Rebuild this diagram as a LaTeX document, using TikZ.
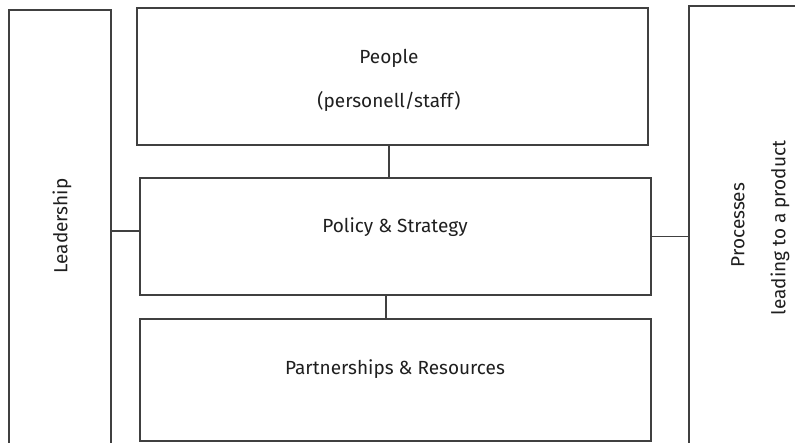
\documentclass[tikz,border=0pt]{standalone}
\usepackage{fontspec}
\setmainfont{Fira Sans}
\begin{document}
\begin{tikzpicture}[x=1pt,y=-1pt,
  box/.style={draw=black!75,line width=1.2pt,rectangle,inner sep=0pt},
  conn/.style={draw=black!75,line width=1.2pt},
  lbl/.style={text=black!88,font=\fontsize{19}{22}\selectfont,inner sep=0pt}]
\useasboundingbox[fill=white] (0,0) rectangle (795,443);
\begin{scope}
\clip (0,0) rectangle (795,443);
\node[box,minimum width=102pt,minimum height=450pt] (lead) at (60,235) {};
\node[box,minimum width=511pt,minimum height=137pt] (people) at (392.5,76.5) {};
\node[box,minimum width=511pt,minimum height=117pt] (policy) at (395.5,236.5) {};
\node[box,minimum width=511pt,minimum height=122pt] (partner) at (395.5,380) {};
\node[box,minimum width=140pt,minimum height=470pt] (proc) at (759,241) {};
\end{scope}
\node[lbl] (tpeople) at (389,58) {People};
\node[lbl] (tstaff) at (389,101) {(personell/staff)};
\node[lbl] (tpolicy) at (395,227) {Policy \& Strategy};
\node[lbl] (tpartner) at (395,369) {Partnerships \& Resources};
\node[lbl,rotate=90] (tlead) at (62,226) {Leadership};
\node[lbl,rotate=90] (tproc) at (738,225) {Processes};
\node[lbl,rotate=90] (tprod) at (780,228) {leading to a product};
\draw[conn] (people.south -| 389,0) -- (policy.north -| 389,0);
\draw[conn] (policy.south -| 386,0) -- (partner.north -| 386,0);
\draw[conn] (lead.east |- 0,231) -- (policy.west |- 0,231);
\draw[conn] (policy.east) -- (proc.west |- policy.east);
\end{tikzpicture}
\end{document}
